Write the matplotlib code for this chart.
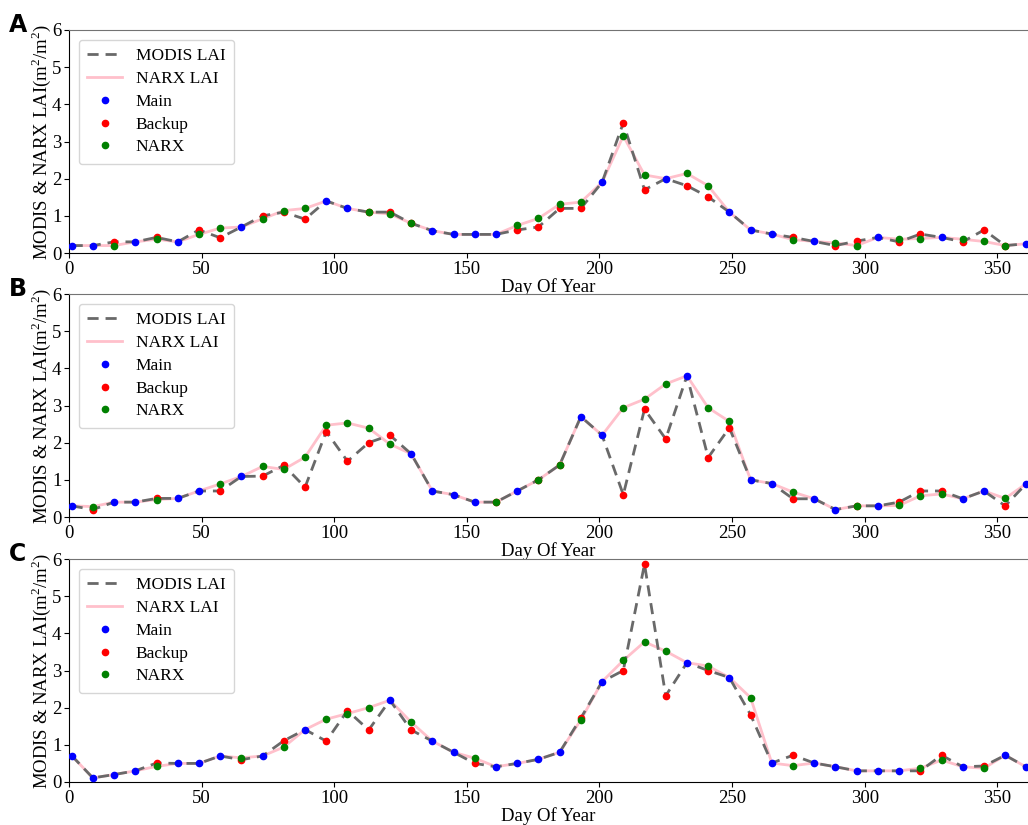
import matplotlib
matplotlib.use("Agg")
import matplotlib.pyplot as plt

plt.rcParams['font.family'] = ['Liberation Serif', 'DejaVu Serif']
plt.rcParams['mathtext.fontset'] = 'custom'
plt.rcParams['mathtext.rm'] = 'Liberation Serif'

# 8-day composite dates
days = [1, 9, 17, 25, 33, 41, 49, 57, 65, 73, 81, 89, 97, 105, 113, 121,
        129, 137, 145, 153, 161, 169, 177, 185, 193, 201, 209, 217, 225, 233,
        241, 249, 257, 265, 273, 281, 289, 297, 305, 313, 321, 329, 337, 345,
        353, 361]

# M = main algorithm retrieval, B = backup algorithm retrieval
flags_a = "MMBMBMBBMBBBMMBBBMMMMBBBBMBBMBBMMMBMBBMBBMBBBM"
modis_a = [0.2, 0.2, 0.3, 0.3, 0.42, 0.3, 0.62, 0.41, 0.7, 1.0, 1.1, 0.91,
           1.4, 1.2, 1.1, 1.1, 0.8, 0.6, 0.5, 0.5, 0.5, 0.62, 0.7, 1.2, 1.2,
           1.9, 3.5, 1.7, 2.0, 1.81, 1.51, 1.1, 0.62, 0.51, 0.42, 0.31, 0.2,
           0.32, 0.42, 0.3, 0.51, 0.42, 0.3, 0.62, 0.2, 0.25]
narx_a = [0.2, 0.2, 0.2, 0.3, 0.37, 0.3, 0.5, 0.67, 0.7, 0.92, 1.14, 1.2,
          1.4, 1.2, 1.1, 1.05, 0.8, 0.6, 0.5, 0.5, 0.5, 0.74, 0.93, 1.31, 1.37,
          1.9, 3.15, 2.1, 2.0, 2.14, 1.81, 1.1, 0.62, 0.51, 0.36, 0.31, 0.27,
          0.2, 0.42, 0.37, 0.39, 0.42, 0.37, 0.31, 0.2, 0.25]

flags_b = "MBMMBMMBMBBBBBBBMMMMBMBBMMBBBMBBMMBMMBMBBBMMBM"
modis_b = [0.3, 0.2, 0.4, 0.4, 0.5, 0.5, 0.7, 0.7, 1.09, 1.1, 1.39, 0.8,
           2.3, 1.5, 2.0, 2.2, 1.7, 0.7, 0.6, 0.4, 0.4, 0.7, 1.0, 1.4, 2.7,
           2.2, 0.6, 2.9, 2.1, 3.8, 1.6, 2.4, 1.0, 0.9, 0.49, 0.49, 0.2, 0.3,
           0.3, 0.4, 0.7, 0.7, 0.49, 0.7, 0.3, 0.9]
narx_b = [0.3, 0.28, 0.4, 0.4, 0.47, 0.5, 0.7, 0.89, 1.09, 1.36, 1.28, 1.61,
          2.47, 2.53, 2.39, 1.96, 1.7, 0.7, 0.6, 0.4, 0.4, 0.7, 1.0, 1.4, 2.7,
          2.2, 2.94, 3.17, 3.58, 3.8, 2.94, 2.57, 1.0, 0.9, 0.67, 0.49, 0.2,
          0.3, 0.3, 0.31, 0.57, 0.62, 0.49, 0.7, 0.5, 0.9]

flags_c = "MMMMBMMMBMBMBBBMBMMBMMMMBMBBBMBMBMBMMMMMBBMBMM"
modis_c = [0.71, 0.11, 0.2, 0.3, 0.51, 0.5, 0.5, 0.7, 0.6, 0.7, 1.11, 1.41,
           1.1, 1.92, 1.4, 2.2, 1.4, 1.1, 0.8, 0.5, 0.41, 0.5, 0.61, 0.8, 1.72,
           2.7, 3.0, 5.86, 2.32, 3.21, 3.0, 2.81, 1.81, 0.51, 0.72, 0.51, 0.41,
           0.3, 0.3, 0.3, 0.3, 0.72, 0.41, 0.43, 0.72, 0.4]
narx_c = [0.71, 0.11, 0.2, 0.3, 0.42, 0.5, 0.5, 0.7, 0.65, 0.7, 0.94, 1.41,
          1.69, 1.84, 2.0, 2.2, 1.61, 1.1, 0.8, 0.64, 0.41, 0.5, 0.61, 0.8,
          1.67, 2.7, 3.27, 3.77, 3.52, 3.21, 3.12, 2.81, 2.27, 0.51, 0.44,
          0.51, 0.41, 0.3, 0.3, 0.3, 0.37, 0.59, 0.41, 0.37, 0.72, 0.4]

panels = [("A", flags_a, modis_a, narx_a),
          ("B", flags_b, modis_b, narx_b),
          ("C", flags_c, modis_c, narx_c)]

fig = plt.figure(figsize=(10.28, 8.25), dpi=100)
W, H = 1028.0, 825.0
tops = [30, 294, 559]   # pixel rows of the top of each axes
ax_h = 223

for (letter, flags, modis, narx), top in zip(panels, tops):
    ax = fig.add_axes([69 / W, 1 - (top + ax_h) / H, 1 - 69 / W, ax_h / H])

    ax.plot(days, narx, color='pink', lw=2, label='NARX LAI', zorder=2)
    ax.plot(days, modis, color='dimgray', lw=2, ls=(0, (4, 2.5)),
            label='MODIS LAI', zorder=3)

    main_x = [d for d, f in zip(days, flags) if f == 'M']
    main_y = [v for v, f in zip(modis, flags) if f == 'M']
    back_x = [d for d, f in zip(days, flags) if f == 'B']
    back_y = [v for v, f in zip(modis, flags) if f == 'B']
    narx_y = [v for v, f in zip(narx, flags) if f == 'B']

    ax.plot(main_x, main_y, 'o', color='blue', ms=4.5, label='Main', zorder=4)
    ax.plot(back_x, back_y, 'o', color='red', ms=4.5, label='Backup', zorder=4)
    ax.plot(back_x, narx_y, 'o', color='green', ms=4.5, label='NARX', zorder=5)

    ax.set_xlim(0, 361.6)
    ax.set_ylim(0, 6)
    ax.set_xticks([0, 50, 100, 150, 200, 250, 300, 350])
    ax.set_yticks([0, 1, 2, 3, 4, 5, 6])
    ax.tick_params(labelsize=13.5, pad=2)
    ax.set_xlabel('Day Of Year', fontsize=13.5, labelpad=0)
    ax.set_ylabel(r'MODIS & NARX LAI(m$^2$/m$^2$)', fontsize=13.5, labelpad=-1)
    ax.spines['right'].set_visible(False)
    ax.spines['top'].set_color('0.45')

    handles, labels = ax.get_legend_handles_labels()
    order = [1, 0, 2, 3, 4]
    ax.legend([handles[i] for i in order], [labels[i] for i in order],
              loc='upper left', fontsize=12.5, handlelength=2.0,
              labelspacing=0.38, borderpad=0.5, borderaxespad=0.55)

    fig.text(9 / W, 1 - (top + 2) / H, letter, fontsize=17, weight='bold',
             family='DejaVu Sans', va='baseline')

fig.savefig('out.png', dpi=100)
